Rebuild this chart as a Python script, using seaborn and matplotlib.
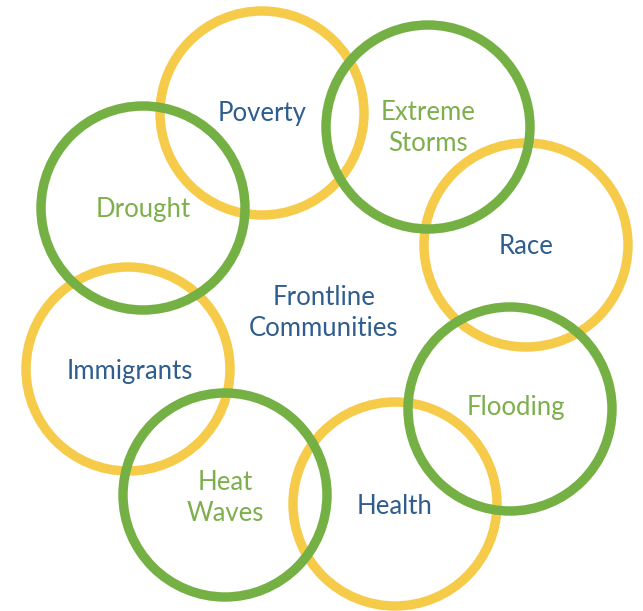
import matplotlib
matplotlib.use("Agg")
import matplotlib.pyplot as plt
from matplotlib.patches import Circle
import seaborn as sns

sns.set_theme(style="white")
plt.rcParams['font.family'] = ['Lato', 'DejaVu Sans']

# Data
labels = ["Poverty", "Extreme\nStorms", "Race", "Flooding", "Health",
          "Heat\nWaves", "Immigrants", "Drought"]
kinds = ["social", "climate", "social", "climate", "social",
         "climate", "social", "climate"]
center_label = "Frontline\nCommunities"

# Layout (pixel coordinates of circle centres and labels)
cx = [262, 428, 526, 510, 395, 225, 128, 143]
cy = [113, 127, 245, 409, 504, 495, 369, 208]
tx = [262, 428, 526, 516, 395, 225, 130, 143]
ty = [113, 128, 246, 408, 506, 498, 371, 209]
radius = 102

ring_colors = {"social": "#F6CB4A", "climate": "#74B043"}
text_colors = {"social": "#2E5D8E", "climate": "#7DAF4C"}

W, H = 643, 611
fig = plt.figure(figsize=(W / 100, H / 100), dpi=100)
ax = fig.add_axes([0, 0, 1, 1])
ax.set_xlim(0, W)
ax.set_ylim(H, 0)
ax.set_aspect("equal")
ax.axis("off")

for x, y, k in zip(cx, cy, kinds):
    z = 2 if k == "social" else 3
    ax.add_patch(Circle((x, y), radius, fill=False, lw=6.8,
                        edgecolor=ring_colors[k], zorder=z))

for x, y, lab, k in zip(tx, ty, labels, kinds):
    ax.text(x, y, lab, ha="center", va="center", fontsize=18.5,
            color=text_colors[k], linespacing=1.3, zorder=5)

ax.text(324, 313, center_label, ha="center", va="center", fontsize=18.5,
        color="#2E5D8E", linespacing=1.3, zorder=5)

fig.savefig("out.png", dpi=100)
